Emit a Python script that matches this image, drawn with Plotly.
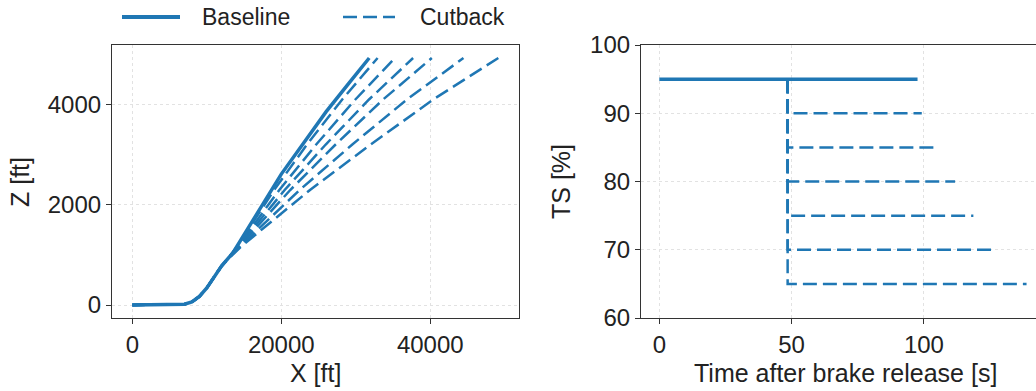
import plotly.graph_objects as go

W, H = 1036, 391
BLUE = "#1f77b4"
FONT = "Liberation Sans, Arial, sans-serif"

# ---------------- data: left panel (trajectories) ----------------
base_x = [0, 2000, 4000, 6000, 7000, 8000, 9000, 10000, 11000, 12000, 13500,
          15000, 17500, 20000, 23000, 26000, 29000, 31800]
base_z = [0, 0, 0, 0, 15, 60, 170, 340, 560, 780, 1040,
          1400, 2000, 2610, 3230, 3850, 4410, 4925]

# common path shared by every cutback before the thrust reduction
pre_x = [0, 2000, 4000, 6000, 7000, 8000, 9000, 10000, 11000, 12000]
pre_z = [0, 0, 0, 0, 15, 60, 170, 340, 560, 780]

cut_z = [863, 1150, 1520, 2293, 3200, 4098, 4925]
cut90_x = [12500, 13993, 15630, 19035, 23449, 28178, 32926]
cut85_x = [12500, 14066, 15900, 19730, 24684, 29942, 35266]
cut80_x = [12500, 14142, 16180, 20451, 25964, 31772, 37692]
cut75_x = [12500, 14221, 16470, 21198, 27290, 33668, 40205]
cut70_x = [12500, 14354, 16960, 22460, 29531, 36871, 44451]
cut65_x = [12500, 14500, 17500, 23850, 32000, 40400, 49130]
cut_paths_x = [cut90_x, cut85_x, cut80_x, cut75_x, cut70_x, cut65_x]

# ---------------- data: right panel (thrust setting) ----------------
base_t = [0, 97.6]
base_ts = [95, 95]
cut_time = 48.5
cut_levels = [90, 85, 80, 75, 70, 65]
cut_end_t = [99.2, 105.5, 111.8, 118.7, 127.5, 138.8]

fig = go.Figure()

fig.add_trace(go.Scatter(x=base_x, y=base_z, mode="lines", name="Baseline",
                         line=dict(color=BLUE, width=3.5), showlegend=False,
                         xaxis="x", yaxis="y"))
for px_ in cut_paths_x:
    fig.add_trace(go.Scatter(x=pre_x + px_, y=pre_z + cut_z, mode="lines", name="Cutback",
                             line=dict(color=BLUE, width=2.5, dash="14px,6px"),
                             showlegend=False, xaxis="x", yaxis="y"))

fig.add_trace(go.Scatter(x=base_t, y=base_ts, mode="lines", name="Baseline",
                         line=dict(color=BLUE, width=3.5), showlegend=False,
                         xaxis="x2", yaxis="y2"))
for lvl, tend in zip(cut_levels, cut_end_t):
    fig.add_trace(go.Scatter(x=[cut_time, cut_time, tend], y=[base_ts[0], lvl, lvl],
                             mode="lines", name="Cutback",
                             line=dict(color=BLUE, width=2.5, dash="14px,6px"),
                             showlegend=False, xaxis="x2", yaxis="y2"))

AX = dict(showline=True, linecolor="#333333", linewidth=1.2,
          ticks="outside", ticklen=5, tickwidth=1.2, tickcolor="#333333",
          showgrid=True, gridcolor="#e2e2e2", gridwidth=0.8, griddash="3px,3px",
          zeroline=False, tickfont=dict(family=FONT, size=24, color="#222222"),
          tickformat="d", automargin=False, fixedrange=True)

ydom = [1 - 318 / H, 1 - 45 / H]
fig.update_layout(
    width=W, height=H,
    margin=dict(l=0, r=0, t=0, b=0, autoexpand=False),
    paper_bgcolor="white", plot_bgcolor="white",
    font=dict(family=FONT, size=24, color="#222222"),
    xaxis=dict(AX, domain=[112 / W, 519 / W], range=[-2725, 51906],
               tickvals=[0, 20000, 40000], mirror=True, anchor="y"),
    yaxis=dict(AX, domain=ydom, range=[-259, 5184],
               tickvals=[0, 2000, 4000], mirror=True, anchor="x"),
    xaxis2=dict(AX, domain=[641 / W, 1.0], range=[-6.92, 142.37],
                tickvals=[0, 50, 100], mirror=True, anchor="y2"),
    yaxis2=dict(AX, domain=ydom, range=[60, 100],
                tickvals=[60, 70, 80, 90, 100], anchor="x2"),
    showlegend=False,
)

# axis titles and legend labels
ann = [
    dict(text="X [ft]", x=315.5 / W, y=1 - 373 / H, size=25),
    dict(text="Time after brake release [s]", x=845 / W, y=1 - 373 / H, size=25),
    dict(text="Z [ft]", x=20 / W, y=1 - 182 / H, textangle=-90, size=25),
    dict(text="TS [%]", x=561 / W, y=1 - 182 / H, textangle=-90, size=25),
    dict(text="Baseline", x=200 / W, y=1 - 17 / H, xanchor="left", size=23),
    dict(text="Cutback", x=418 / W, y=1 - 17 / H, xanchor="left", size=23),
]
for a in ann:
    a.setdefault("xanchor", "center")
    sz = a.pop("size")
    fig.add_annotation(xref="paper", yref="paper", yanchor="middle", showarrow=False,
                       font=dict(family=FONT, size=sz, color="#222222"), **a)

# legend symbols
fig.add_shape(type="line", xref="paper", yref="paper", x0=122 / W, x1=180 / W,
              y0=1 - 17 / H, y1=1 - 17 / H, line=dict(color=BLUE, width=4))
fig.add_shape(type="line", xref="paper", yref="paper", x0=343 / W, x1=395 / W,
              y0=1 - 17 / H, y1=1 - 17 / H, line=dict(color=BLUE, width=2.5, dash="14px,6px"))

fig.write_html("out.html")
